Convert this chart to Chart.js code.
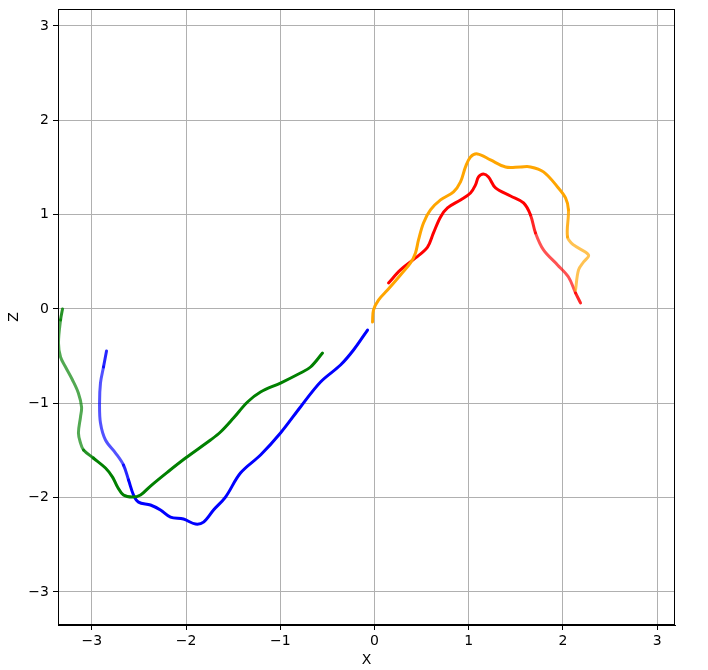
<!DOCTYPE html>
<html>
<head>
<meta charset="utf-8">
<script src="https://cdn.jsdelivr.net/npm/chart.js@4/dist/chart.umd.min.js"></script>
<style>
  html,body{margin:0;padding:0;background:#fff;}
  #wrap{width:708px;height:670px;}
</style>
</head>
<body>
<div id="wrap"><canvas id="chart" width="708" height="670"></canvas></div>
<script>
// Trajectory data (X, Z)
const greenX=[-3.312,-3.333,-3.355,-3.333,-3.280,-3.206,-3.144,-3.110,-3.121,-3.143,-3.121,-3.089,-2.985,-2.856,-2.781,-2.728,-2.665,-2.569,-2.484,-2.378,-2.197,-2.006,-1.741,-1.635,-1.497,-1.348,-1.210,-0.998,-0.786,-0.679,-0.552];
const greenZ=[0.000,-0.117,-0.360,-0.509,-0.615,-0.753,-0.891,-1.039,-1.145,-1.315,-1.421,-1.495,-1.580,-1.686,-1.782,-1.888,-1.972,-1.994,-1.972,-1.877,-1.729,-1.580,-1.389,-1.304,-1.156,-0.986,-0.880,-0.785,-0.679,-0.615,-0.467];

const blueX=[-2.845,-2.877,-2.909,-2.919,-2.909,-2.856,-2.749,-2.665,-2.611,-2.558,-2.505,-2.378,-2.272,-2.166,-2.028,-1.900,-1.815,-1.709,-1.582,-1.423,-1.210,-0.998,-0.786,-0.573,-0.361,-0.223,-0.074];
const blueZ=[-0.445,-0.615,-0.785,-0.997,-1.209,-1.389,-1.527,-1.654,-1.813,-1.972,-2.047,-2.078,-2.131,-2.206,-2.227,-2.280,-2.259,-2.131,-1.994,-1.739,-1.548,-1.315,-1.039,-0.774,-0.594,-0.435,-0.223];

const orangeX=[-0.021,-0.011,0.042,0.138,0.276,0.382,0.435,0.467,0.520,0.594,0.701,0.839,0.913,0.966,1.019,1.093,1.231,1.391,1.550,1.656,1.794,1.943,2.028,2.059,2.049,2.113,2.272,2.219,2.166,2.134];
const orangeZ=[-0.138,-0.011,0.095,0.201,0.361,0.488,0.594,0.732,0.912,1.050,1.156,1.241,1.347,1.506,1.612,1.644,1.580,1.506,1.506,1.506,1.453,1.294,1.177,1.050,0.764,0.679,0.573,0.498,0.414,0.201];

const redX=[0.149,0.276,0.435,0.563,0.626,0.701,0.775,0.913,1.019,1.072,1.104,1.157,1.210,1.285,1.444,1.582,1.656,1.709,1.794,1.943,2.059,2.134,2.187];
const redZ=[0.276,0.414,0.541,0.657,0.806,0.976,1.071,1.156,1.230,1.315,1.400,1.432,1.400,1.283,1.198,1.124,0.997,0.806,0.626,0.467,0.339,0.170,0.064];

const xTicks=[-3,-2,-1,0,1,2,3];
const zTicks=[-3,-2,-1,0,1,2,3];

function pts(xs,zs){return xs.map((x,i)=>({x:x,y:zs[i]}));}

// lighter stretch of each path (segment index range)
function fader(rgb,from,to){
  return ctx=>{
    const i=ctx.p0DataIndex;
    let a=1;
    if(i>=from && i<=to) a=0.68;
    else if(i===from-1 || i===to+1) a=0.85;
    return `rgba(${rgb},${a})`;
  };
}

function series(xs,zs,rgb,from,to){
  return {
    data:pts(xs,zs),
    showLine:true,
    borderColor:`rgb(${rgb})`,
    borderWidth:3,
    borderCapStyle:'round',
    borderJoinStyle:'round',
    pointRadius:0,
    tension:0.35,
    segment:{borderColor:fader(rgb,from,to)}
  };
}

const frame={
  id:'frame',
  afterDatasetsDraw(chart){
    const a=chart.chartArea, c=chart.ctx;
    c.save();
    c.strokeStyle='#000';
    c.lineWidth=1;
    c.strokeRect(a.left+0.5,a.top+0.5,a.right-a.left-1,a.bottom-a.top-1);
    c.restore();
  }
};

const fmt=v=>String(v).replace('-','\u2212');
const font={family:'DejaVu Sans',size:14};

new Chart(document.getElementById('chart'),{
  type:'scatter',
  data:{datasets:[
    series(greenX,greenZ,'0,128,0',1,10),
    series(blueX,blueZ,'0,0,255',1,6),
    series(orangeX,orangeZ,'255,165,0',24,28),
    series(redX,redZ,'255,0,0',17,20)
  ]},
  options:{
    responsive:false,
    animation:false,
    layout:{padding:{left:0,top:9,right:33,bottom:0}},
    plugins:{legend:{display:false},tooltip:{enabled:false}},
    scales:{
      x:{
        type:'linear',min:-3.36,max:3.19,
        afterBuildTicks:s=>{s.ticks=xTicks.map(v=>({value:v}));},
        afterFit:s=>{s.height=45;s.paddingLeft=0;s.paddingRight=0;},
        ticks:{color:'#000',font:font,padding:3,maxRotation:0,callback:fmt},
        grid:{color:'#b0b0b0',lineWidth:1,tickColor:'#000',tickLength:5},
        border:{display:true,color:'#000'},
        title:{display:true,text:'X',color:'#000',font:font,padding:{top:0,bottom:1}}
      },
      y:{
        type:'linear',min:-3.35,max:3.18,
        afterBuildTicks:s=>{s.ticks=zTicks.map(v=>({value:v}));},
        afterFit:s=>{s.width=58;s.paddingTop=0;s.paddingBottom=0;},
        ticks:{color:'#000',font:font,padding:4,callback:fmt},
        grid:{color:'#b0b0b0',lineWidth:1,tickColor:'#000',tickLength:5},
        border:{display:true,color:'#000'},
        title:{display:true,text:'Z',color:'#000',font:font,padding:{top:6,bottom:0}}
      }
    }
  },
  plugins:[frame]
});
</script>
</body>
</html>
